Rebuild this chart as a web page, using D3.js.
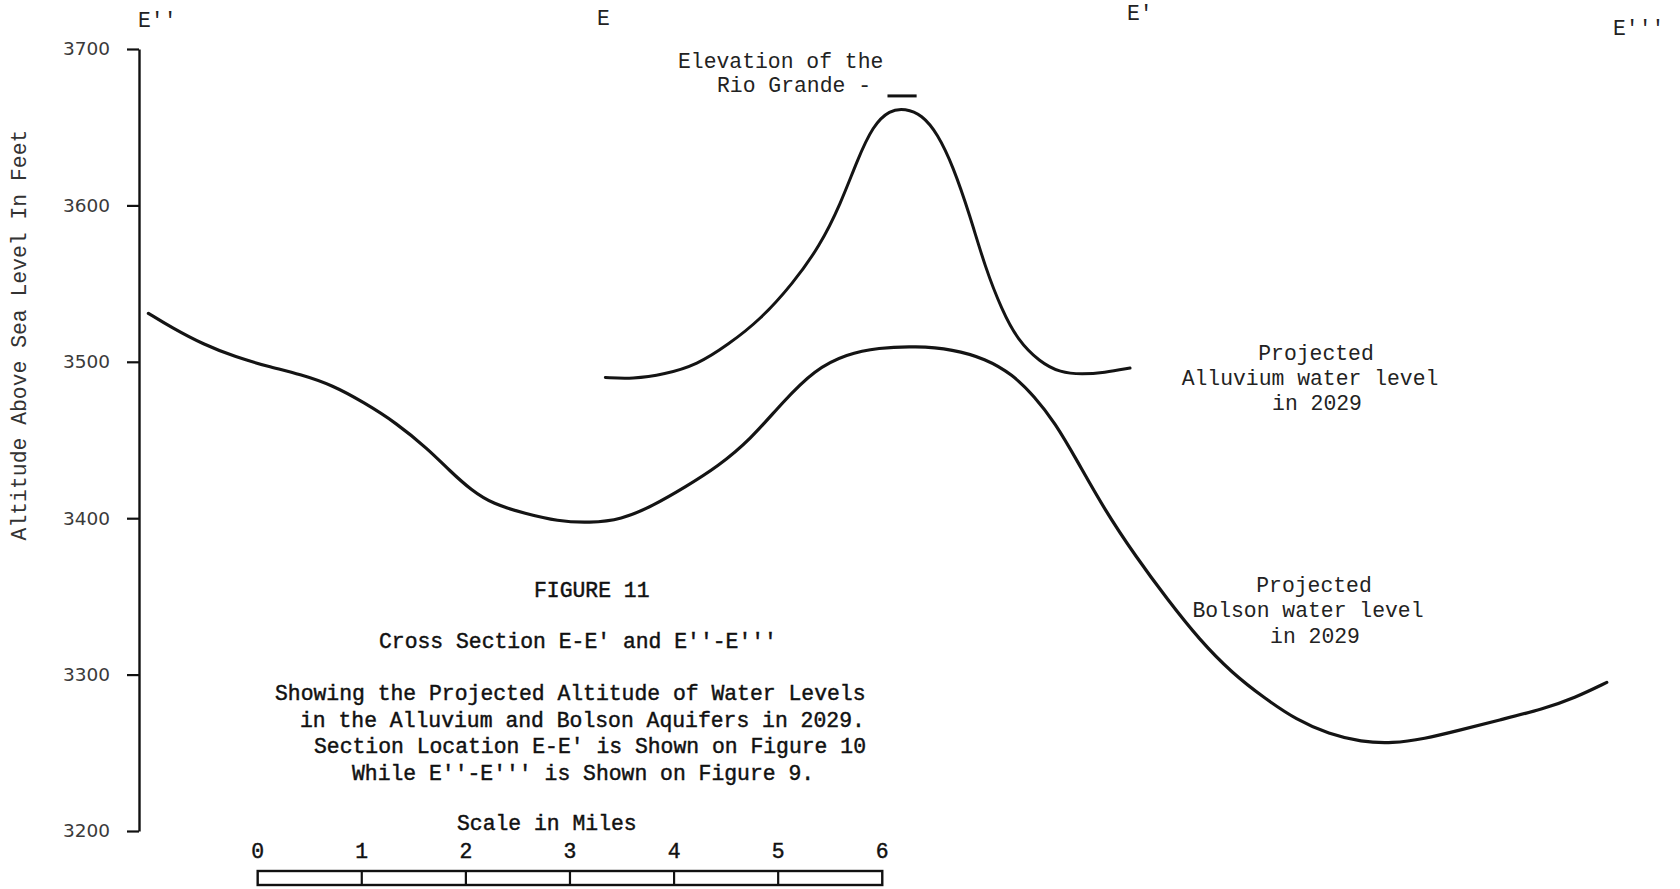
<!DOCTYPE html>
<html>
<head>
<meta charset="utf-8">
<script src="https://cdn.jsdelivr.net/npm/d3@7"></script>
<style>
  html, body { margin: 0; padding: 0; background: #fff; }
  svg { display: block; }
  .mono { font-family: "Liberation Mono", "DejaVu Sans Mono", monospace; }
</style>
</head>
<body>
<svg id="chart" width="1680" height="889"></svg>
<script>
// ---------------- DATA ----------------
// Distance along section (miles from E'') and altitude (feet above sea level)
const bolsonMiles = [0.09, 0.31, 0.62, 0.93, 1.24, 1.55, 1.86, 2.16, 2.47, 2.78, 2.99, 3.19, 3.40, 3.71, 4.02, 4.33, 4.63, 4.94, 5.25, 5.56, 5.87, 6.18, 6.49, 6.80, 7.10, 7.46, 7.82, 8.13, 8.39, 8.60, 8.80, 9.01, 9.27, 9.58, 9.88, 10.19, 10.50, 10.81, 11.12, 11.43, 11.74, 12.04, 12.35, 12.66, 13.07, 13.49, 13.79, 14.10];
const bolsonFeet  = [3531, 3522, 3511, 3503, 3497, 3492, 3485, 3474, 3461, 3444, 3430, 3418, 3409, 3403, 3398, 3397, 3399, 3408, 3420, 3433, 3450, 3474, 3495, 3505, 3509, 3510, 3508, 3502, 3492, 3478, 3461, 3437, 3406, 3375, 3348, 3322, 3301, 3285, 3271, 3262, 3257, 3256, 3259, 3264, 3271, 3278, 3285, 3295];

const alluviumMiles = [4.48, 4.74, 5.05, 5.36, 5.66, 5.97, 6.28, 6.54, 6.74, 6.90, 7.05, 7.21, 7.36, 7.52, 7.67, 7.82, 7.98, 8.13, 8.29, 8.44, 8.65, 8.85, 9.06, 9.27, 9.52];
const alluviumFeet  = [3490, 3489, 3492, 3498, 3511, 3527, 3550, 3574, 3601, 3629, 3651, 3661, 3662, 3658, 3646, 3625, 3594, 3560, 3533, 3514, 3500, 3493, 3492, 3493, 3496];

const rioGrandeMiles = [7.19, 7.47];
const rioGrandeFeet = 3670;

const yTicks = [3200, 3300, 3400, 3500, 3600, 3700];
const scaleMiles = [0, 1, 2, 3, 4, 5, 6];

const sectionLabels = ["E''", "E", "E'", "E'''"];
const yTitle = "Altitude Above Sea Level In Feet";
const riverLabel = ["Elevation of the", "Rio Grande -"];
const alluviumLabel = ["Projected", "Alluvium water level", "in 2029"];
const bolsonLabel = ["Projected", "Bolson water level", "in 2029"];
const captionLines = ["FIGURE 11", "Cross Section E-E' and E''-E'''",
  "Showing the Projected Altitude of Water Levels",
  "in the Alluvium and Bolson Aquifers in 2029.",
  "Section Location E-E' is Shown on Figure 10",
  "While E''-E''' is Shown on Figure 9."];
const scaleTitle = "Scale in Miles";

// ---------------- LAYOUT ----------------
const svg = d3.select("#chart");
const axisX = 139;
const pxPerMile = 104.1;
const x = d3.scaleLinear().domain([0, 14]).range([axisX, axisX + 14 * pxPerMile]);
const y = d3.scaleLinear().domain([3200, 3700]).range([831, 49]);
const FS = 21.4;

// Y axis
const yAxis = d3.axisLeft(y).tickValues(yTicks).tickFormat(d3.format("d"))
  .tickSize(12).tickSizeOuter(0).tickPadding(17);
const gAxis = svg.append("g").attr("transform", `translate(${axisX},0)`).call(yAxis);
gAxis.select(".domain").attr("stroke", "#111").attr("stroke-width", 2.4);
gAxis.selectAll(".tick line").attr("stroke", "#111").attr("stroke-width", 2.2);
gAxis.selectAll(".tick text")
  .attr("font-family", "'DejaVu Sans', sans-serif")
  .attr("font-size", 18.5).attr("fill", "#3a3a3a");

// Y title
svg.append("text").attr("class", "mono")
  .attr("transform", "translate(26,335) rotate(-90)")
  .attr("text-anchor", "middle").attr("font-size", FS).attr("fill", "#333")
  .text(yTitle);

// Section labels at top
const secPos = [[138, 27], [597, 25], [1127, 20], [1613, 35]];
svg.selectAll("text.sec").data(sectionLabels).enter().append("text")
  .attr("class", "sec mono")
  .attr("x", (d, i) => secPos[i][0]).attr("y", (d, i) => secPos[i][1])
  .attr("font-size", FS).attr("fill", "#222")
  .text(d => d);

// Curves
const line = d3.line().x(d => x(d[0])).y(d => y(d[1])).curve(d3.curveBasis);
const bolson = bolsonMiles.map((m, i) => [m, bolsonFeet[i]]);
const alluvium = alluviumMiles.map((m, i) => [m, alluviumFeet[i]]);

svg.append("path").datum(bolson).attr("d", line)
  .attr("fill", "none").attr("stroke", "#141414").attr("stroke-width", 3.2)
  .attr("stroke-linecap", "round").attr("stroke-linejoin", "round");
svg.append("path").datum(alluvium).attr("d", line)
  .attr("fill", "none").attr("stroke", "#141414").attr("stroke-width", 3)
  .attr("stroke-linecap", "round").attr("stroke-linejoin", "round");

// Rio Grande elevation mark
svg.append("line")
  .attr("x1", x(rioGrandeMiles[0])).attr("x2", x(rioGrandeMiles[1]))
  .attr("y1", y(rioGrandeFeet)).attr("y2", y(rioGrandeFeet))
  .attr("stroke", "#111").attr("stroke-width", 3);

// River label
const riverPos = [[678, 68], [717, 92]];
svg.selectAll("text.river").data(riverLabel).enter().append("text")
  .attr("class", "river mono")
  .attr("x", (d, i) => riverPos[i][0]).attr("y", (d, i) => riverPos[i][1])
  .attr("font-size", FS).attr("fill", "#222").text(d => d);

// Alluvium & Bolson labels
const alluvPos = [[1316, 360], [1310, 385], [1317, 410]];
svg.selectAll("text.alluv").data(alluviumLabel).enter().append("text")
  .attr("class", "alluv mono").attr("text-anchor", "middle")
  .attr("x", (d, i) => alluvPos[i][0]).attr("y", (d, i) => alluvPos[i][1])
  .attr("font-size", FS).attr("fill", "#222").text(d => d);
const bolPos = [[1314, 592], [1308, 617], [1315, 643]];
svg.selectAll("text.bol").data(bolsonLabel).enter().append("text")
  .attr("class", "bol mono").attr("text-anchor", "middle")
  .attr("x", (d, i) => bolPos[i][0]).attr("y", (d, i) => bolPos[i][1])
  .attr("font-size", FS).attr("fill", "#222").text(d => d);

// Caption
const capPos = [[534, 597], [379, 648], [275, 700], [300, 727], [314, 753], [352, 780]];
svg.selectAll("text.cap").data(captionLines).enter().append("text")
  .attr("class", "cap mono")
  .attr("x", (d, i) => capPos[i][0]).attr("y", (d, i) => capPos[i][1])
  .attr("font-size", FS).attr("fill", "#111")
  .attr("stroke", "#111").attr("stroke-width", 0.45)
  .text(d => d);

// Scale bar
const scaleOffset = 1.14; // miles offset of the bar's 0 from the axis
svg.append("text").attr("class", "mono")
  .attr("x", 457).attr("y", 830).attr("font-size", FS).attr("fill", "#111")
  .attr("stroke", "#111").attr("stroke-width", 0.45).text(scaleTitle);
const sx = m => x(m + scaleOffset);
svg.append("rect")
  .attr("x", sx(0)).attr("y", 871)
  .attr("width", sx(scaleMiles[scaleMiles.length - 1]) - sx(0)).attr("height", 14)
  .attr("fill", "none").attr("stroke", "#111").attr("stroke-width", 2.4);
svg.selectAll("line.div").data(scaleMiles.slice(1, -1)).enter().append("line")
  .attr("class", "div")
  .attr("x1", d => sx(d)).attr("x2", d => sx(d)).attr("y1", 871).attr("y2", 885)
  .attr("stroke", "#111").attr("stroke-width", 2.2);
svg.selectAll("text.sn").data(scaleMiles).enter().append("text")
  .attr("class", "sn mono").attr("text-anchor", "middle")
  .attr("x", d => sx(d)).attr("y", 858)
  .attr("font-size", FS).attr("fill", "#111")
  .attr("stroke", "#111").attr("stroke-width", 0.45)
  .text(d => d);
</script>
</body>
</html>
